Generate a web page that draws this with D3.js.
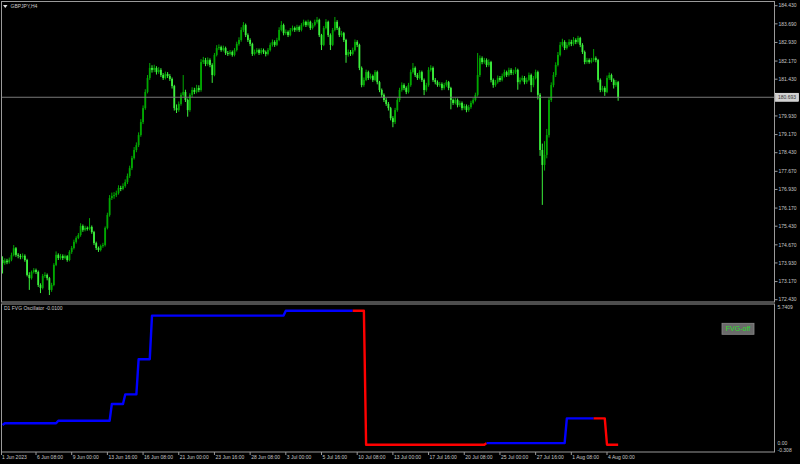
<!DOCTYPE html>
<html lang="en">
<head>
<meta charset="UTF-8">
<title>GBPJPY,H4</title>
<script src="https://d3js.org/d3.v7.min.js"></script>
<style>
  body { margin: 0; background: #000; }
  svg { display: block; }
  text { font-family: "Liberation Sans", Arial, sans-serif; font-size: 5px; fill: #c8c8c8; }
</style>
</head>
<body>
<script>
// H4 bars, index 0 = 1 Jun 2023 00:00 (6 bars per trading day); first visible bar is index 5
const firstBar = 5;

const opens = [
  174.05,173.92,174.02,173.96,174.06,
  174.25,174.53,174.26,174.22,174.17,
  174.22,174.05,173.44,173.31,173.56,
  173.64,173.56,173.03,172.91,173.40,
  173.44,173.31,172.83,173.03,173.85,
  174.26,174.13,174.21,174.13,174.21,
  174.05,174.38,174.54,174.79,174.95,
  175.07,175.44,175.28,175.36,175.32,
  175.40,175.19,174.74,174.54,174.46,
  174.62,174.66,175.36,175.89,176.58,
  176.66,176.70,176.78,176.99,176.95,
  177.07,177.23,177.48,177.80,178.21,
  178.54,178.74,179.15,179.68,180.25,
  180.91,181.48,181.89,181.81,181.89,
  181.72,181.81,181.60,181.48,181.64,
  181.56,181.44,181.15,180.25,180.17,
  180.42,180.79,180.91,180.58,180.17,
  180.79,180.99,180.91,181.07,180.99,
  182.13,182.21,182.05,182.21,182.01,
  181.60,182.42,182.70,182.74,182.62,
  182.70,182.50,182.46,182.54,182.42,
  182.62,182.87,183.03,183.44,183.64,
  183.23,183.03,182.87,182.46,182.54,
  182.62,182.50,182.62,182.54,182.46,
  182.62,182.83,182.95,182.83,183.03,
  183.44,183.64,183.31,183.36,183.23,
  183.44,183.52,183.44,183.56,183.44,
  183.64,183.77,183.64,183.77,183.52,
  183.64,183.77,183.85,183.23,182.83,
  183.52,183.77,183.23,182.83,183.44,
  183.77,183.52,183.23,183.31,183.03,
  182.42,182.54,182.46,182.62,182.95,
  182.83,181.89,181.19,181.40,181.72,
  181.48,181.56,181.40,181.72,181.31,
  180.99,180.79,180.58,180.42,180.25,
  179.84,179.68,180.17,180.58,180.99,
  181.19,181.07,180.91,181.19,181.72,
  181.89,181.60,181.48,181.72,181.40,
  180.99,181.19,181.81,181.89,181.40,
  181.31,181.19,181.23,181.07,181.19,
  181.31,181.07,180.58,180.46,180.58,
  180.37,180.46,180.25,180.33,180.17,
  180.29,180.46,180.58,180.79,181.60,
  182.29,182.13,182.21,182.01,182.13,
  181.40,181.19,181.31,181.48,181.40,
  181.56,181.72,181.60,181.81,181.68,
  181.72,181.81,181.31,181.40,181.48,
  181.31,181.40,181.60,181.19,181.48,
  181.72,180.79,178.54,177.93,178.34,
  179.15,180.58,181.19,181.60,182.01,
  182.42,182.83,182.95,182.70,182.83,
  182.95,182.87,183.03,182.95,183.11,
  182.83,182.54,182.13,182.21,182.13,
  182.21,182.29,182.21,181.40,180.99,
  181.07,180.91,181.48,181.60,181.40,
  181.19,181.31
];

const highs = [
  174.20,174.12,174.10,174.15,174.35,
  174.66,174.58,174.33,174.30,174.32,
  174.28,174.10,173.55,173.62,173.72,
  173.70,173.62,173.10,173.48,173.55,
  173.50,173.36,173.12,173.92,174.40,
  174.32,174.30,174.28,174.27,174.25,
  174.45,174.62,174.88,175.02,175.15,
  175.55,175.50,175.45,175.42,175.76,
  175.46,175.24,174.80,174.60,174.68,
  174.75,175.42,175.98,176.70,176.80,
  176.82,176.88,177.10,177.08,177.18,
  177.34,177.58,177.90,178.30,178.66,
  178.85,179.26,179.80,180.36,181.02,
  181.60,182.09,182.00,182.02,181.96,
  181.92,181.88,181.68,181.74,181.72,
  181.64,181.50,181.20,180.40,180.52,
  180.88,181.60,181.00,180.64,180.86,
  181.10,181.08,181.20,181.18,182.25,
  182.34,182.30,182.32,182.28,182.08,
  182.50,182.82,182.85,182.80,182.80,
  182.76,182.58,182.62,182.60,182.70,
  182.96,183.14,183.55,183.76,183.70,
  183.30,183.10,182.92,182.64,182.70,
  182.68,182.70,182.68,182.60,182.70,
  182.92,183.05,183.02,183.12,183.55,
  183.80,183.70,183.46,183.42,183.52,
  183.62,183.58,183.65,183.62,183.72,
  183.86,183.82,183.86,183.82,183.72,
  183.86,183.97,183.90,183.28,183.60,
  183.88,183.82,183.30,183.52,183.97,
  183.84,183.58,183.40,183.36,183.08,
  182.64,182.62,182.72,183.05,183.02,
  182.88,181.95,181.50,181.82,181.78,
  181.66,181.62,181.80,181.78,181.36,
  181.05,180.85,180.66,180.50,180.30,
  179.92,180.26,180.66,181.08,181.30,
  181.26,181.14,181.28,181.82,182.09,
  181.95,181.68,181.80,181.78,181.46,
  181.28,181.92,182.00,181.95,181.48,
  181.38,181.32,181.30,181.28,181.40,
  181.36,181.12,180.64,180.66,180.64,
  180.55,180.52,180.42,180.40,180.38,
  180.55,180.66,180.88,182.50,182.40,
  182.36,182.30,182.28,182.24,182.18,
  181.46,181.40,181.58,181.56,181.66,
  181.82,181.78,181.90,181.88,181.82,
  181.92,181.86,181.50,181.58,181.56,
  181.50,181.70,181.66,181.56,181.82,
  181.78,180.86,178.80,178.90,179.40,
  180.70,181.30,181.72,182.12,182.54,
  182.95,183.08,183.02,182.94,183.06,
  183.04,183.15,183.10,183.20,183.16,
  182.90,182.60,182.30,182.28,182.30,
  182.66,182.36,182.26,181.46,181.16,
  181.14,181.58,181.70,181.66,181.46,
  181.40,181.36
];

const lows = [
  173.50,173.85,173.88,173.90,174.00,
  174.20,174.18,174.12,174.08,174.10,
  173.98,173.38,172.83,173.25,173.50,
  173.48,172.95,172.70,172.85,173.32,
  173.22,172.62,172.75,172.98,173.80,
  174.05,174.06,174.05,174.08,173.98,
  174.00,174.30,174.48,174.72,174.90,
  175.00,175.20,175.22,175.25,175.26,
  175.12,174.66,174.46,174.38,174.40,
  174.55,174.60,175.30,175.82,176.50,
  176.55,176.62,176.72,176.86,176.90,
  177.00,177.15,177.40,177.72,178.15,
  178.45,178.66,179.08,179.60,180.18,
  180.85,181.40,181.70,181.72,181.62,
  181.65,181.52,181.40,181.42,181.48,
  181.36,181.05,180.15,180.05,180.10,
  180.35,180.72,180.50,179.90,180.10,
  180.70,180.82,180.85,180.90,180.92,
  182.05,181.96,181.98,181.92,181.28,
  181.55,182.36,182.62,182.55,182.56,
  182.42,182.38,182.40,182.35,182.36,
  182.56,182.80,182.96,183.36,183.15,
  182.95,182.78,182.38,182.40,182.48,
  182.42,182.44,182.46,182.36,182.40,
  182.56,182.76,182.75,182.78,182.98,
  183.38,183.22,183.24,183.15,183.18,
  183.38,183.36,183.38,183.36,183.38,
  183.58,183.56,183.58,183.44,183.46,
  183.58,183.70,183.15,182.62,182.78,
  183.46,183.15,182.62,182.78,183.38,
  183.44,183.15,183.16,182.95,182.10,
  182.35,182.38,182.40,182.56,182.74,
  181.80,181.10,181.12,181.35,181.40,
  181.42,181.32,181.35,181.22,180.90,
  180.70,180.50,180.34,180.15,179.75,
  179.47,179.60,180.10,180.50,180.92,
  180.98,180.82,180.85,181.12,181.66,
  181.52,181.40,181.42,181.32,180.78,
  180.92,181.12,181.74,181.32,181.22,
  181.12,181.12,180.98,181.00,181.12,
  180.98,180.20,180.38,180.40,180.28,
  180.30,180.16,180.18,180.08,180.10,
  180.22,180.40,180.52,180.72,181.52,
  182.04,182.06,181.92,181.94,181.30,
  181.08,181.12,181.25,181.32,181.34,
  181.50,181.52,181.54,181.60,181.60,
  181.64,181.00,181.22,181.34,181.22,
  181.24,181.34,180.90,181.10,181.42,
  180.60,178.30,176.30,177.70,178.20,
  179.05,180.50,181.10,181.52,181.95,
  182.36,182.76,182.62,182.64,182.76,
  182.78,182.80,182.86,182.88,182.74,
  182.46,182.04,182.06,182.06,182.08,
  182.14,182.12,181.30,180.90,180.92,
  180.75,180.86,181.40,181.32,181.05,
  181.12,180.55
];

const closes = [
  173.92,174.02,173.96,174.06,174.25,
  174.53,174.26,174.22,174.17,174.22,
  174.05,173.44,173.31,173.56,173.64,
  173.56,173.03,172.91,173.40,173.44,
  173.31,172.83,173.03,173.85,174.26,
  174.13,174.21,174.13,174.21,174.05,
  174.38,174.54,174.79,174.95,175.07,
  175.44,175.28,175.36,175.32,175.40,
  175.19,174.74,174.54,174.46,174.62,
  174.66,175.36,175.89,176.58,176.66,
  176.70,176.78,176.99,176.95,177.07,
  177.23,177.48,177.80,178.21,178.54,
  178.74,179.15,179.68,180.25,180.91,
  181.48,181.89,181.81,181.89,181.72,
  181.81,181.60,181.48,181.64,181.56,
  181.44,181.15,180.25,180.17,180.42,
  180.79,180.91,180.58,180.17,180.79,
  180.99,180.91,181.07,180.99,182.13,
  182.21,182.05,182.21,182.01,181.60,
  182.42,182.70,182.74,182.62,182.70,
  182.50,182.46,182.54,182.42,182.62,
  182.87,183.03,183.44,183.64,183.23,
  183.03,182.87,182.46,182.54,182.62,
  182.50,182.62,182.54,182.46,182.62,
  182.83,182.95,182.83,183.03,183.44,
  183.64,183.31,183.36,183.23,183.44,
  183.52,183.44,183.56,183.44,183.64,
  183.77,183.64,183.77,183.52,183.64,
  183.77,183.85,183.23,182.83,183.52,
  183.77,183.23,182.83,183.44,183.77,
  183.52,183.23,183.31,183.03,182.42,
  182.54,182.46,182.62,182.95,182.83,
  181.89,181.19,181.40,181.72,181.48,
  181.56,181.40,181.72,181.31,180.99,
  180.79,180.58,180.42,180.25,179.84,
  179.68,180.17,180.58,180.99,181.19,
  181.07,180.91,181.19,181.72,181.89,
  181.60,181.48,181.72,181.40,180.99,
  181.19,181.81,181.89,181.40,181.31,
  181.19,181.23,181.07,181.19,181.31,
  181.07,180.58,180.46,180.58,180.37,
  180.46,180.25,180.33,180.17,180.29,
  180.46,180.58,180.79,181.60,182.29,
  182.13,182.21,182.01,182.13,181.40,
  181.19,181.31,181.48,181.40,181.56,
  181.72,181.60,181.81,181.68,181.72,
  181.81,181.31,181.40,181.48,181.31,
  181.40,181.60,181.19,181.48,181.72,
  180.79,178.54,177.93,178.34,179.15,
  180.58,181.19,181.60,182.01,182.42,
  182.83,182.95,182.70,182.83,182.95,
  182.87,183.03,182.95,183.11,182.83,
  182.54,182.13,182.21,182.13,182.21,
  182.29,182.21,181.40,180.99,181.07,
  180.91,181.48,181.60,181.40,181.19,
  181.31,180.693
];

const bidPrice = 180.693;

// D1 FVG oscillator, one value per trading day (1 Jun .. 4 Aug), shown on every H4 bar of that day
const oscDaily = [
  0.84, 0.91, 0.91, 0.91, 0.91, 1.02, 1.02, 1.02, 1.02, 1.74,
  2.15, 3.66, 5.53, 5.53, 5.53, 5.53, 5.53, 5.53, 5.53, 5.53,
  5.53, 5.53, 5.7409, 5.7409, 5.7409, 5.7409, 5.7409, 5.7409, -0.01, -0.01,
  -0.01, -0.01, -0.01, -0.01, -0.01, -0.01, -0.01, 0.06, 0.06, 0.06,
  0.06, 0.06, 0.06, 1.12, 1.12, 1.12, -0.01
];
const oscDir = [
  "up", "up", "up", "up", "up", "up", "up", "up", "up", "up",
  "up", "up", "up", "up", "up", "up", "up", "up", "up", "up",
  "up", "up", "up", "up", "up", "up", "up", "dn", "dn", "dn",
  "dn", "dn", "dn", "dn", "dn", "dn", "dn", "up", "up", "up",
  "up", "up", "up", "up", "up", "dn", "dn"
];

const priceTicks = [184.43, 183.69, 182.93, 182.17, 181.43, 179.93, 179.17, 178.43,
  177.67, 176.93, 176.17, 175.43, 174.67, 173.93, 173.17, 172.43];
const oscTickLabels = ["5.7409", "0.00", "-0.308"];

const firstTimeLabel = "1 Jun 2023";
const timeLabels = ["6 Jun 08:00", "9 Jun 00:00", "13 Jun 16:00", "16 Jun 08:00", "21 Jun 00:00",
  "23 Jun 16:00", "28 Jun 08:00", "3 Jul 00:00", "5 Jul 16:00", "10 Jul 08:00", "13 Jul 00:00",
  "17 Jul 16:00", "20 Jul 08:00", "25 Jul 00:00", "27 Jul 16:00", "1 Aug 08:00", "4 Aug 00:00"];
const timeLabelBars = [20, 36, 52, 68, 84, 100, 116, 132, 148, 164, 180, 196, 212, 228, 244, 260, 276];

// layout
const W = 800, H = 464;
const left = 1.5, right = 774.5;
const mainTop = 1.5, mainBottom = 302;
const subTop = 304, subBottom = 452;
const frameColor = "#9a9a9a";
const bullColor = "#00a800", bearColor = "#3cf03c";

const svg = d3.select("body").append("svg")
    .attr("width", W)
    .attr("height", H);

svg.append("rect").attr("width", W).attr("height", H).attr("fill", "#000");

const x = d3.scaleLinear().domain([0, 276]).range([-8.6, 607]);
const y = d3.scaleLinear().domain([172.43, 184.43]).range([299.7, 5.7]);
const yOsc = d3.scaleLinear().domain([-0.308, 5.7409]).range([451.7, 310.7]);

const defs = svg.append("defs");
defs.append("clipPath").attr("id", "clipMain").append("rect")
    .attr("x", left).attr("y", mainTop).attr("width", right - left).attr("height", mainBottom - mainTop);
defs.append("clipPath").attr("id", "clipSub").append("rect")
    .attr("x", left).attr("y", subTop).attr("width", right - left).attr("height", subBottom - subTop);

// candles
const bars = closes.map((c, k) => ({ i: firstBar + k, o: opens[k], h: highs[k], l: lows[k], c: c }));
const candles = svg.append("g").attr("clip-path", "url(#clipMain)");

candles.selectAll("line.wick")
    .data(bars)
    .enter().append("line")
    .attr("class", "wick")
    .attr("x1", d => x(d.i)).attr("x2", d => x(d.i))
    .attr("y1", d => y(d.h)).attr("y2", d => y(d.l))
    .attr("stroke", d => d.c >= d.o ? bullColor : bearColor)
    .attr("stroke-width", 1);

candles.selectAll("rect.body")
    .data(bars)
    .enter().append("rect")
    .attr("class", "body")
    .attr("x", d => x(d.i) - 0.9)
    .attr("width", 1.8)
    .attr("y", d => y(Math.max(d.o, d.c)))
    .attr("height", d => Math.max(1, Math.abs(y(d.o) - y(d.c))))
    .attr("fill", d => d.c >= d.o ? bullColor : bearColor);

// bid line
svg.append("line")
    .attr("x1", left).attr("x2", right)
    .attr("y1", y(bidPrice)).attr("y2", y(bidPrice))
    .attr("stroke", "#7a7a7a").attr("stroke-width", 1);

// window frames
svg.append("rect")
    .attr("x", left).attr("y", mainTop)
    .attr("width", right - left).attr("height", mainBottom - mainTop)
    .attr("fill", "none").attr("stroke", frameColor).attr("stroke-width", 1);
svg.append("rect")
    .attr("x", left).attr("y", subTop)
    .attr("width", right - left).attr("height", subBottom - subTop)
    .attr("fill", "none").attr("stroke", frameColor).attr("stroke-width", 1);

// price axis
const pAxis = svg.append("g");
pAxis.selectAll("line")
    .data(priceTicks)
    .enter().append("line")
    .attr("x1", right).attr("x2", right + 3)
    .attr("y1", d => y(d)).attr("y2", d => y(d))
    .attr("stroke", frameColor);
pAxis.selectAll("text")
    .data(priceTicks)
    .enter().append("text")
    .attr("x", right + 4)
    .attr("y", d => y(d))
    .attr("dy", "0.35em")
    .text(d => d.toFixed(3));

// current price box
const bidY = y(bidPrice);
svg.append("rect")
    .attr("x", right + 1).attr("y", bidY - 4)
    .attr("width", 23).attr("height", 8)
    .attr("fill", "#d0d0d0").attr("stroke", "#ffffff").attr("stroke-width", 0.6);
svg.append("text")
    .attr("x", right + 3.5).attr("y", bidY)
    .attr("dy", "0.35em")
    .style("fill", "#303030")
    .text(bidPrice.toFixed(3));

// symbol title
svg.append("path").attr("d", "M3,5L7.5,5L5.25,8Z").attr("fill", "#e0e0e0");
svg.append("text").attr("x", 10.5).attr("y", 6.5).attr("dy", "0.35em").text("GBPJPY,H4");

// oscillator
const oscPts = bars.map(d => ({
  i: d.i,
  v: oscDaily[Math.floor(d.i / 6)],
  dir: oscDir[Math.floor(d.i / 6)]
}));
const runs = [];
for (let k = 1; k < oscPts.length; k++) {
  const dir = oscPts[k - 1].dir;
  const last = runs[runs.length - 1];
  if (last && last.dir === dir) last.pts.push(oscPts[k]);
  else runs.push({ dir: dir, pts: [oscPts[k - 1], oscPts[k]] });
}
const oscLine = d3.line().x(d => x(d.i)).y(d => yOsc(d.v));
svg.append("g").attr("clip-path", "url(#clipSub)")
    .selectAll("path")
    .data(runs)
    .enter().append("path")
    .attr("d", d => oscLine(d.pts))
    .attr("fill", "none")
    .attr("stroke", d => d.dir === "up" ? "#0000ff" : "#ff0000")
    .attr("stroke-width", 2.4)
    .attr("stroke-linejoin", "round");

svg.append("text").attr("x", 4).attr("y", 308.5).attr("dy", "0.35em")
    .text("D1 FVG Oscillator  -0.0100");

// oscillator scale labels (0.00 and -0.308 sit very close, as in the terminal)
svg.append("text").attr("x", right + 3).attr("y", subTop + 3.5).attr("dy", "0.35em").text(oscTickLabels[0]);
svg.append("text").attr("x", right + 3).attr("y", yOsc(0) - 1.2).attr("dy", "0.35em").text(oscTickLabels[1]);
svg.append("text").attr("x", right + 3).attr("y", subBottom - 2).attr("dy", "0.35em").text(oscTickLabels[2]);

// FVG-off button
svg.append("rect")
    .attr("x", 722).attr("y", 323.3).attr("width", 32).attr("height", 11)
    .attr("fill", "#6a6a6a").attr("stroke", "#8c8c8c").attr("stroke-width", 0.8);
svg.append("text")
    .attr("x", 738).attr("y", 329).attr("dy", "0.35em")
    .attr("text-anchor", "middle")
    .style("font-size", "7px").style("fill", "#2edc2e")
    .text("FVG-off");

// time axis
const tAxis = svg.append("g");
tAxis.append("line")
    .attr("x1", left).attr("x2", left)
    .attr("y1", subBottom).attr("y2", subBottom + 3)
    .attr("stroke", frameColor);
tAxis.append("text")
    .attr("x", left + 0.5).attr("y", 457.5).attr("dy", "0.35em")
    .text(firstTimeLabel);
tAxis.selectAll("line.tick")
    .data(timeLabelBars)
    .enter().append("line")
    .attr("class", "tick")
    .attr("x1", d => x(d)).attr("x2", d => x(d))
    .attr("y1", subBottom).attr("y2", subBottom + 3)
    .attr("stroke", frameColor);
tAxis.selectAll("text.tl")
    .data(timeLabels)
    .enter().append("text")
    .attr("class", "tl")
    .attr("x", (d, k) => x(timeLabelBars[k]) + 1)
    .attr("y", 457.5).attr("dy", "0.35em")
    .text(d => d);
</script>
</body>
</html>
